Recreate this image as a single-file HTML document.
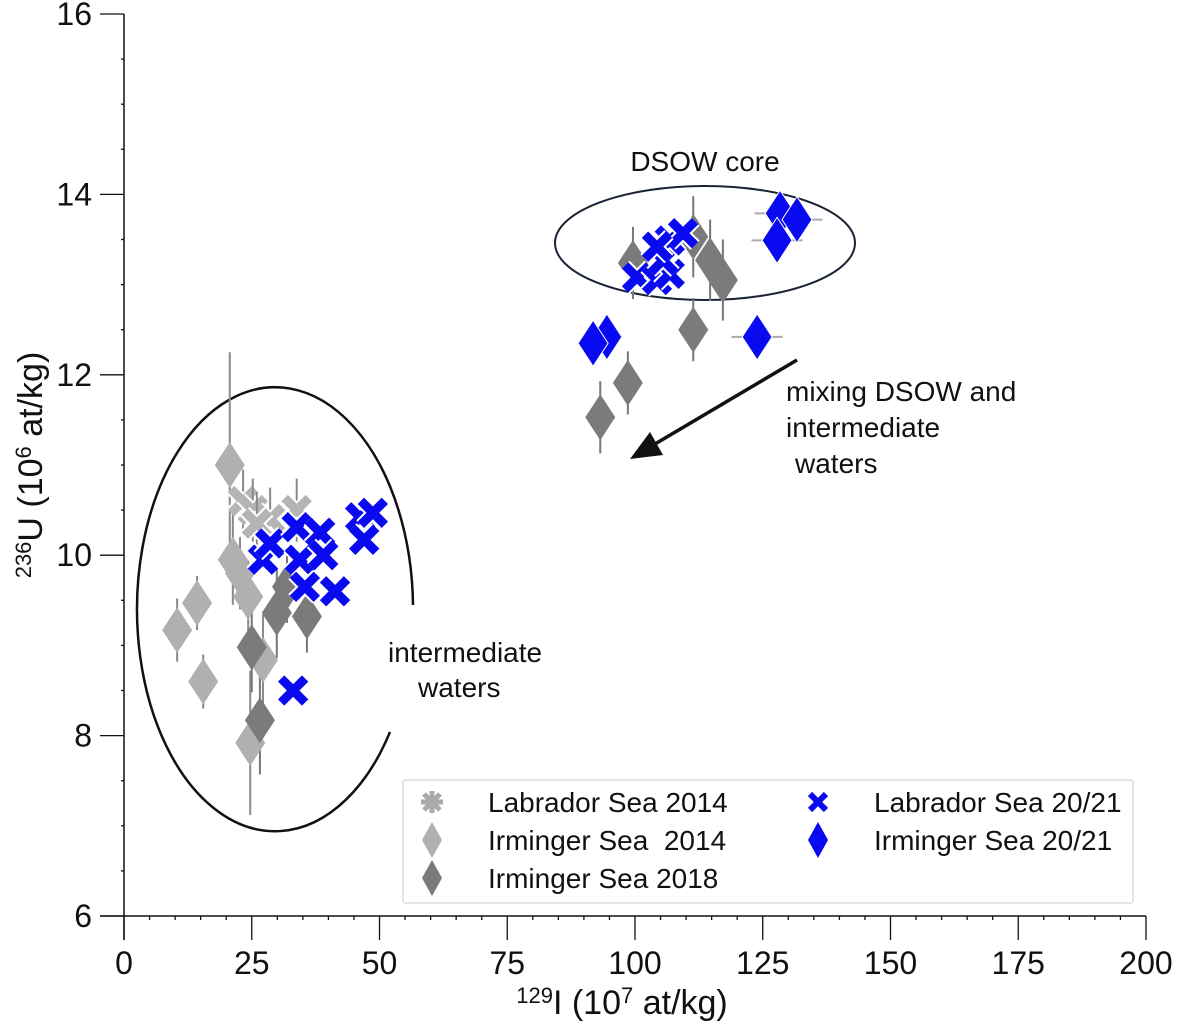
<!DOCTYPE html>
<html><head><meta charset="utf-8"><style>
body{margin:0;background:#fff;}
svg{display:block;font-family:"Liberation Sans","DejaVu Sans",sans-serif;}
</style></head><body>
<svg id="chart" width="1181" height="1025" viewBox="0 0 1181 1025"></svg>
<script>
const xTicks=[0,25,50,75,100,125,150,175,200];
const yTicks=[6,8,10,12,14,16];
// Labrador Sea 2014
const lab14X=[23.3,25.2,28.6,33.8,26];
const lab14Y=[10.6,10.5,10.4,10.5,10.35];
// Irminger Sea 2014
const irm14X=[20.7,10.4,14.3,15.5,21.3,22.7,24.3,27.2,24.7];
const irm14Y=[11.0,9.17,9.47,8.6,9.95,9.8,9.54,8.84,7.92];
const irm14Err=[1.25,0.35,0.3,0.3,0.5,0.4,0.4,0.5,0.8];
// Irminger Sea 2018
const irm18X=[29.9,35.8,25,26.6,31.9,99.6,111.4,114.7,117.2,111.4,98.6,93.2];
const irm18Y=[9.36,9.32,8.98,8.17,9.65,13.24,13.53,13.27,13.05,12.5,11.91,11.53];
const irm18Err=[0.5,0.4,0.5,0.6,0.4,0.4,0.45,0.45,0.45,0.35,0.35,0.4];
// Labrador Sea 20/21
const lab21X=[27.2,28.6,33.8,34.4,38.4,39,35.4,41.3,33.1,46.2,48.7,47,100.4,104.3,106.8,105.5,106.8,109.4,104.3];
const lab21Y=[9.95,10.13,10.31,9.95,10.25,10.0,9.65,9.6,8.5,10.42,10.47,10.17,13.08,13.05,13.12,13.27,13.49,13.57,13.42];
// Irminger Sea 20/21
const irm21X=[128.4,131.7,127.8,94.5,91.8,123.9];
const irm21Y=[13.79,13.72,13.49,12.42,12.35,12.42];
const irm21XErr=[5,5,5,3,3,5];

const NS="http://www.w3.org/2000/svg";
const svg=document.getElementById('chart');
const X0=124,X1=1146,Y0=916,Y1=14;
function sx(v){return X0+(v-0)/200*(X1-X0);}
function sy(v){return Y0-(v-6)/10*(Y0-Y1);}
function el(tag,attrs,parent){const e=document.createElementNS(NS,tag);for(const k in attrs)e.setAttribute(k,attrs[k]);(parent||svg).appendChild(e);return e;}

const axes=el('g',{});


el('line',{x1:X0,y1:Y1,x2:X0,y2:Y0+24,stroke:'#111','stroke-width':1.5},axes);
el('line',{x1:X0-24,y1:Y0,x2:X1,y2:Y0,stroke:'#111','stroke-width':1.5},axes);
for(let v=0;v<=200;v+=5){const x=sx(v);const maj=v%25===0;
 el('line',{x1:x,y1:Y0,x2:x,y2:Y0+(maj?24:4),stroke:'#111','stroke-width':1.3},axes);}
xTicks.forEach(v=>{const t=el('text',{x:sx(v),y:Y0+58,'font-size':32,'text-anchor':'middle',fill:'#111'},axes);t.textContent=v;
 });
for(let v=6;v<=16;v+=0.5){const y=sy(v);const maj=Math.abs(v%2)<1e-6;
 el('line',{x1:X0-(maj?24:3),y1:y,x2:X0,y2:y,stroke:'#111','stroke-width':1.3},axes);}
yTicks.forEach(v=>{const t=el('text',{x:X0-32,y:sy(v)+11,'font-size':32,'text-anchor':'end',fill:'#111'},axes);t.textContent=v;
 });

const e1=el('ellipse',{cx:705,cy:243,rx:150,ry:57,fill:'none',stroke:'#1a2335','stroke-width':2});

const e2=el('path',{d:'M 413 605 A 138 222 0 1 0 390 732',fill:'none',stroke:'#111','stroke-width':2.5});

const ar=el('line',{x1:797,y1:360,x2:655,y2:444,stroke:'#111','stroke-width':3.5});

const ah=el('polygon',{points:'630,459 650,432 663,455',fill:'#111'});


function errV(x,y,e,c){el('line',{x1:sx(x),y1:sy(y-e),x2:sx(x),y2:sy(y+e),stroke:c,'stroke-width':2});}
function diamond(x,y,c,stroke){const cx=sx(x),cy=sy(y);
 return el('polygon',{points:`${cx},${cy-23} ${cx+15},${cy} ${cx},${cy+23} ${cx-15},${cy}`,fill:c,stroke:stroke||'none','stroke-width':1});}
function cross(x,y,c,w){const cx=sx(x),cy=sy(y);const g=el('g',{});
 const d=`M${cx-12},${cy-12}L${cx+12},${cy+12}M${cx+12},${cy-12}L${cx-12},${cy+12}`;
 el('path',{d:d,stroke:'#fff','stroke-width':w+4,fill:'none'},g);
 el('path',{d:d,stroke:c,'stroke-width':w,fill:'none'},g);return g;}

irm14X.forEach((x,i)=>errV(x,irm14Y[i],irm14Err[i],'#8a8a8a'));
irm18X.forEach((x,i)=>errV(x,irm18Y[i],irm18Err[i],'#777'));
irm14X.forEach((x,i)=>{const m=diamond(x,irm14Y[i],'#b0b0b0');});
lab14X.forEach((x,i)=>{errV(x,lab14Y[i],0.35,'#8a8a8a');const m=cross(x,lab14Y[i],'#b4b4b4',9);});
irm18X.forEach((x,i)=>{const m=diamond(x,irm18Y[i],'#7b7b7b');});
irm21X.forEach((x,i)=>{el('line',{x1:sx(x-irm21XErr[i]),y1:sy(irm21Y[i]),x2:sx(x+irm21XErr[i]),y2:sy(irm21Y[i]),stroke:'#aaa','stroke-width':2});});
irm21X.forEach((x,i)=>{const m=diamond(x,irm21Y[i],'#0a0af0','#fff');});
lab21X.forEach((x,i)=>{const m=cross(x,lab21Y[i],'#0a0af0',9);});

function txt(s,x,y,size,name,anchor){const t=el('text',{x:x,y:y,'font-size':size,fill:'#111','text-anchor':anchor||'start'});t.textContent=s;
 return t;}
txt('DSOW core',705,171,28,'dsow-core-label','middle');
txt('mixing DSOW and',786,401,28,'mixing-label');
txt('intermediate',786,437,28,'mixing-label');
txt('waters',795,473,28,'mixing-label');
txt('intermediate',388,662,28,'intermediate-label');
txt('waters',418,697,28,'intermediate-label');

const lg=el('g',{});

el('rect',{x:403,y:780,width:730,height:123,rx:3,fill:'#fff',stroke:'#ddd','stroke-width':1.5},lg);
const items=[['Labrador Sea 2014',432,802,'lab14'],['Irminger Sea  2014',432,840,'irm14'],['Irminger Sea 2018',432,878,'irm18'],['Labrador Sea 20/21',818,802,'lab21'],['Irminger Sea 20/21',818,840,'irm21']];
items.forEach(it=>{const [s,px,py,k]=it;const g=el('g',{},lg);
 
 if(k==='lab14'){el('path',{d:`M${px-8},${py-8}L${px+8},${py+8}M${px+8},${py-8}L${px-8},${py+8}M${px},${py-11}L${px},${py+11}M${px-11},${py}L${px+11},${py}`,stroke:'#aaa','stroke-width':5},g);}
 else if(k==='lab21'){el('path',{d:`M${px-8},${py-8}L${px+8},${py+8}M${px+8},${py-8}L${px-8},${py+8}`,stroke:'#0a0af0','stroke-width':6},g);}
 else{const c=k==='irm14'?'#b0b0b0':k==='irm18'?'#7b7b7b':'#0a0af0';
  el('polygon',{points:`${px},${py-18} ${px+10},${py} ${px},${py+18} ${px-10},${py}`,fill:c},g);}
 const t=el('text',{x:px+56,y:py+10,'font-size':28,fill:'#111'},g);t.textContent=s;t.setAttribute('style','white-space:pre');});

const yt=el('text',{x:0,y:0,'font-size':34,fill:'#111','text-anchor':'middle',transform:'translate(42,465) rotate(-90)'});

yt.innerHTML='<tspan font-size="22" dy="-11">236</tspan><tspan dy="11">U (10</tspan><tspan font-size="22" dy="-11">6</tspan><tspan dy="11"> at/kg)</tspan>';
const xt=el('text',{x:622,y:1014,'font-size':34,fill:'#111','text-anchor':'middle'});

xt.innerHTML='<tspan font-size="22" dy="-11">129</tspan><tspan dy="11">I (10</tspan><tspan font-size="22" dy="-11">7</tspan><tspan dy="11"> at/kg)</tspan>';
</script>
</body></html>
